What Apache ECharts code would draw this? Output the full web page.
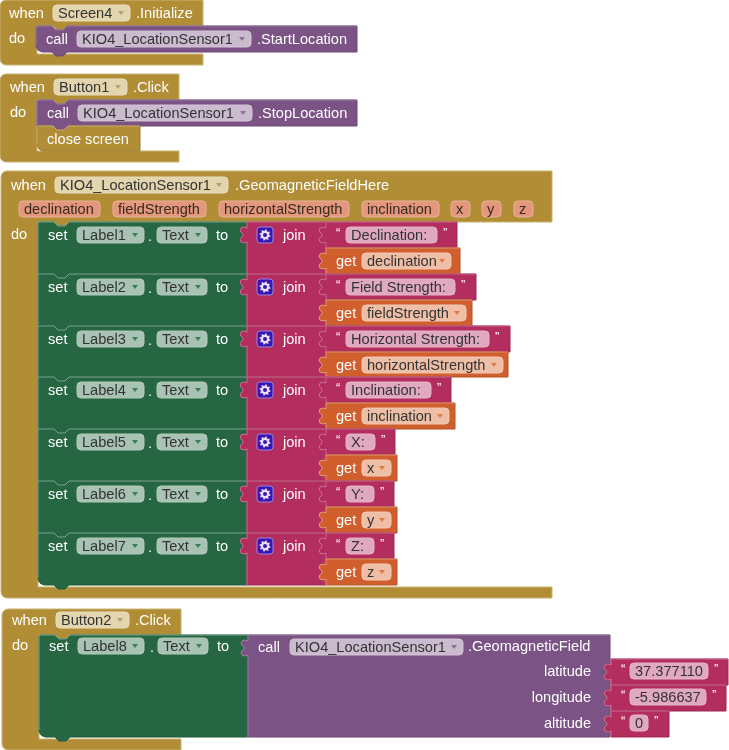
<!DOCTYPE html>
<html>
<head>
<meta charset="utf-8">
<style>html,body{margin:0;padding:0;background:#fff}#main{width:729px;height:750px;filter:blur(0.35px)}</style>
<script src="https://cdn.jsdelivr.net/npm/echarts@6/dist/echarts.min.js"></script>
</head>
<body>
<div id="main"></div>
<script>
// colours per block kind
var fills = {gold: '#B18E35', purple: '#7C5385', green: '#266643', crimson: '#B32D5E', orange: '#D05F2D'};
var lights = {gold: '#C9B274', purple: '#9C83A3', green: '#7FA893', crimson: '#CB6F93', orange: '#E39A78'};
var darks = {gold: '#9C7D2E', purple: '#6C4775', green: '#215A3B', crimson: '#9E2852', orange: '#B65327'};
var pillFills = {gold: '#E3D6AE', purple: '#CBBBCF', green: '#A8C2B3', crimson: '#E1A9C0', orange: '#EFBEA6', param: '#E3977C'};
var pillEdges = {gold: '#E8DEBE', purple: '#D2C4D6', green: '#B2CABC', crimson: '#E6B6CA', orange: '#F2C9B5', param: '#EBB29C'};
var arrowCols = {gold: '#B5A067', purple: '#8E7496', green: '#3F7A5A', crimson: '#B32D5E', orange: '#E07A45'};

// [left, top, headRight, headBottom, footTop, footBottom]
var hats = [
    [0, 0, 203, 26, 54, 65],
    [0, 74, 179, 100, 151, 162],
    [1, 171, 552, 222, 587, 598],
    [2, 609, 181, 635, 739, 750]
];

// the seven set / join rows of the big event
var rowTops = [222, 274, 326, 377, 429, 481, 533, 585];
var labelNames = ['Label1', 'Label2', 'Label3', 'Label4', 'Label5', 'Label6', 'Label7'];
var stringTexts = ['Declination:', 'Field Strength:', 'Horizontal Strength:', 'Inclination:', 'X:', 'Y:', 'Z:'];
var stringRights = [457, 476, 510, 451, 395, 394, 394];
var stringPillRights = [437, 455, 489, 431, 375, 374, 374];
var getNames = ['declination', 'fieldStrength', 'horizontalStrength', 'inclination', 'x', 'y', 'z'];
var getRights = [460, 472, 508, 455, 397, 397, 397];
var getPillRights = [451, 466, 503, 449, 391, 391, 391];

// event parameters: [left, right, name]
var params = [
    [19, 100, 'declination'], [113, 206, 'fieldStrength'], [219, 349, 'horizontalStrength'],
    [362, 439, 'inclination'], [451, 470, 'x'], [482, 501, 'y'], [514, 533, 'z']
];

// [left, top, right, bottom, kind, dent, bump, round, tab]
var blocks = [
    [36, 26, 357, 52, 'purple', 1, 1, 1, 0],
    [37, 100, 357, 126, 'purple', 1, 1, 0, 0],
    [37, 126, 140, 151, 'gold', 1, 0, 1, 0],
    [39, 635, 248, 737, 'green', 1, 1, 1, 0],
    [248, 635, 610, 737, 'purple', 0, 0, 0, 1],
    [611, 659, 728, 685, 'crimson', 0, 0, 0, 1],
    [611, 685, 726, 711, 'crimson', 0, 0, 0, 1],
    [611, 711, 669, 737, 'crimson', 0, 0, 0, 1]
];

// [left, right, middle y, kind, text, has arrow]
var pills = [
    [53, 130, 13, 'gold', 'Screen4', 1],
    [77, 251, 39, 'purple', 'KIO4_LocationSensor1', 1],
    [54, 127, 87, 'gold', 'Button1', 1],
    [78, 252, 113, 'purple', 'KIO4_LocationSensor1', 1],
    [55, 228, 185, 'gold', 'KIO4_LocationSensor1', 1],
    [56, 129, 620, 'gold', 'Button2', 1],
    [78, 144, 646, 'green', 'Label8', 1],
    [158, 208, 646, 'green', 'Text', 1],
    [290, 463, 647, 'purple', 'KIO4_LocationSensor1', 1],
    [630, 708, 671, 'crimson', '37.377110', 0],
    [630, 706, 697, 'crimson', '-5.986637', 0],
    [630, 648, 723, 'crimson', '0', 0]
];

// [x, middle y, text, align]
var labels = [
    [9, 13, 'when'], [136, 13, '.Initialize'], [9, 38, 'do'], [46, 39, 'call'], [257, 39, '.StartLocation'],
    [10, 87, 'when'], [133, 87, '.Click'], [10, 112, 'do'], [47, 113, 'call'], [258, 113, '.StopLocation'],
    [47, 139, 'close screen'],
    [11, 185, 'when'], [235, 185, '.GeomagneticFieldHere'], [11, 234, 'do'],
    [12, 620, 'when'], [135, 620, '.Click'], [12, 645, 'do'], [49, 646, 'set'],
    [150, 647, '.'], [217, 646, 'to'], [258, 647, 'call'], [468, 646, '.GeomagneticField'],
    [591, 671, 'latitude', 'right'], [591, 697, 'longitude', 'right'], [591, 723, 'altitude', 'right']
];

var quotes = [[621, 668, '\u201C'], [714, 668, '\u201D'], [621, 694, '\u201C'], [712, 694, '\u201D'], [621, 720, '\u201C'], [654, 720, '\u201D']];
var gears = [];

// fill the repeated rows from the arrays above
labelNames.forEach(function (name, i) {
    var t = rowTops[i], b = rowTops[i + 1], mid = t + 13;
    blocks.push([38, t, 247, b, 'green', 1, 1, i == 6 ? 1 : 0, 0]);
    blocks.push([247, t, 326, b, 'crimson', 0, 0, 0, 1]);
    blocks.push([326, t, stringRights[i], t + 26, 'crimson', 0, 0, 0, 1]);
    blocks.push([326, t + 26, getRights[i], b, 'orange', 0, 0, 0, 1]);
    pills.push([77, 144, mid, 'green', name, 1]);
    pills.push([157, 207, mid, 'green', 'Text', 1]);
    pills.push([346, stringPillRights[i], mid, 'crimson', stringTexts[i], 0]);
    pills.push([362, getPillRights[i], t + 39, 'orange', getNames[i], 1]);
    labels.push([48, mid, 'set'], [148, mid + 1, '.'], [216, mid, 'to'], [283, mid, 'join'], [336, t + 39, 'get']);
    quotes.push([336, mid - 3, '\u201C'], [stringPillRights[i] + 6, mid - 3, '\u201D']);
    gears.push([265, mid]);
});
params.forEach(function (p) {
    pills.push([p[0], p[1], 209, 'param', p[2], 0]);
});

var FONT = '"Liberation Sans", Arial, sans-serif';

function arc(pts, cx, cy, r, from, to) {
    for (var k = 0; k <= 4; k++) {
        var a = (from + (to - from) * k / 4) * Math.PI / 180;
        pts.push([cx + r * Math.cos(a), cy + r * Math.sin(a)]);
    }
}

// outline of a stack block, the first "split" points are the lit top-left edge
function blockOutline(b) {
    var x0 = b[0], y0 = b[1], x1 = b[2], y1 = b[3], pts = [];
    pts.push([x0, b[7] ? y1 - 7 : y1]);
    if (b[8]) {
        var ty = y0 + 5;
        pts.push([x0, ty + 15], [x0 - 3, ty + 16], [x0 - 6, ty + 15], [x0 - 7, ty + 12], [x0 - 4, ty + 9],
            [x0 - 4, ty + 7], [x0 - 7, ty + 4], [x0 - 6, ty + 1], [x0 - 3, ty], [x0, ty + 1]);
    }
    if (b[7] || b[5]) {
        arc(pts, x0 + 2, y0 + 2, 2, 180, 270);
    } else {
        pts.push([x0, y0]);
    }
    if (b[5]) {
        pts.push([x0 + 16, y0], [x0 + 20, y0 + 4], [x0 + 27, y0 + 4], [x0 + 31, y0]);
    }
    pts.push([x1, y0]);
    var split = pts.length;
    pts.push([x1, y1]);
    if (b[6]) {
        pts.push([x0 + 31, y1], [x0 + 27, y1 + 4], [x0 + 20, y1 + 4], [x0 + 16, y1]);
    }
    if (b[7]) {
        arc(pts, x0 + 7, y1 - 7, 7, 90, 180);
    }
    return {pts: pts, split: split};
}

function hatOutline(h) {
    var x0 = h[0], y0 = h[1], x2 = h[2], yh = h[3], yf = h[4], yb = h[5], xi = x0 + 37, out = [];
    arc(out, x0 + 6, y0 + 6, 6, 180, 270);
    out.push([x2, y0], [x2, yh], [xi + 31, yh], [xi + 27, yh + 4], [xi + 20, yh + 4], [xi + 16, yh], [xi, yh],
        [xi, yf], [x2, yf], [x2, yb]);
    arc(out, x0 + 6, yb - 6, 6, 90, 180);
    return out;
}

function coords(api, pts) {
    return pts.map(function (p) { return api.coord(p); });
}

function customSeries(list, z, renderItem) {
    return {
        type: 'custom', z: z, silent: true, clip: false, animation: false,
        data: list.map(function (r) { return [r[0], r[1]]; }),
        encode: {x: 0, y: 1}, renderItem: renderItem
    };
}

var textStyle = function (pos, text, fill, align, size) {
    return {
        type: 'text', x: pos[0], y: pos[1] + 1,
        style: {text: text, fill: fill, font: (size || 14.6) + 'px ' + FONT, align: align || 'left', verticalAlign: 'middle'}
    };
};

var myChart = echarts.init(document.getElementById('main'), null, {renderer: 'canvas'});
var option = {
    backgroundColor: '#fff',
    animation: false,
    grid: {left: 0, right: 0, top: 0, bottom: 0},
    xAxis: {type: 'value', min: 0, max: 729, show: false},
    yAxis: {type: 'value', min: 0, max: 750, inverse: true, show: false},
    series: [
        customSeries(hats, 1, function (params, api) {
            var pts = coords(api, hatOutline(hats[params.dataIndex]));
            return {type: 'polygon', shape: {points: pts}, style: {fill: fills.gold, stroke: lights.gold, lineWidth: 1}};
        }),
        customSeries(blocks, 2, function (params, api) {
            var b = blocks[params.dataIndex], o = blockOutline(b), pts = coords(api, o.pts);
            return {
                type: 'group',
                children: [
                    {type: 'polygon', shape: {points: pts}, style: {fill: fills[b[4]], stroke: darks[b[4]], lineWidth: 1}},
                    {type: 'polyline', shape: {points: pts.slice(0, o.split)}, style: {fill: null, stroke: lights[b[4]], lineWidth: 1}}
                ]
            };
        }),
        customSeries(gears, 3, function (params, api) {
            var c = api.coord(gears[params.dataIndex]), teeth = [];
            for (var k = 0; k < 16; k++) {
                var a = k * Math.PI / 8 + Math.PI / 16, r = k % 2 ? 4 : 6;
                teeth.push([c[0] + r * Math.cos(a), c[1] + r * Math.sin(a)]);
            }
            return {
                type: 'group',
                children: [
                    {type: 'rect', shape: {x: c[0] - 8, y: c[1] - 8, width: 16, height: 16, r: 3}, style: {fill: '#3A15B5', stroke: '#9A86DC', lineWidth: 1}},
                    {type: 'polygon', shape: {points: teeth}, style: {fill: '#E6E0F7'}},
                    {type: 'circle', shape: {cx: c[0], cy: c[1], r: 2}, style: {fill: '#3A15B5'}}
                ]
            };
        }),
        customSeries(pills, 3, function (params, api) {
            var p = pills[params.dataIndex], l = api.coord([p[0], p[2]]), r = api.coord([p[1], p[2]]);
            var dark = p[3] == 'param' ? '#3A2A20' : '#333';
            var children = [
                {type: 'rect', shape: {x: l[0], y: l[1] - 8, width: r[0] - l[0], height: 16, r: 4}, style: {fill: pillFills[p[3]], stroke: pillEdges[p[3]], lineWidth: 1}},
                textStyle([l[0] + 5, l[1]], p[4], dark)
            ];
            if (p[5]) {
                children.push({type: 'polygon', shape: {points: [[r[0] - 12, l[1] - 2], [r[0] - 6, l[1] - 2], [r[0] - 9, l[1] + 2]]}, style: {fill: arrowCols[p[3]]}});
            }
            return {type: 'group', children: children};
        }),
        customSeries(labels, 4, function (params, api) {
            var t = labels[params.dataIndex];
            return textStyle(api.coord([t[0], t[1]]), t[2], '#fff', t[3]);
        }),
        customSeries(quotes, 4, function (params, api) {
            var t = quotes[params.dataIndex];
            return textStyle(api.coord([t[0], t[1]]), t[2], '#fff', 'left', 13);
        })
    ]
};
myChart.setOption(option);
</script>
</body>
</html>
